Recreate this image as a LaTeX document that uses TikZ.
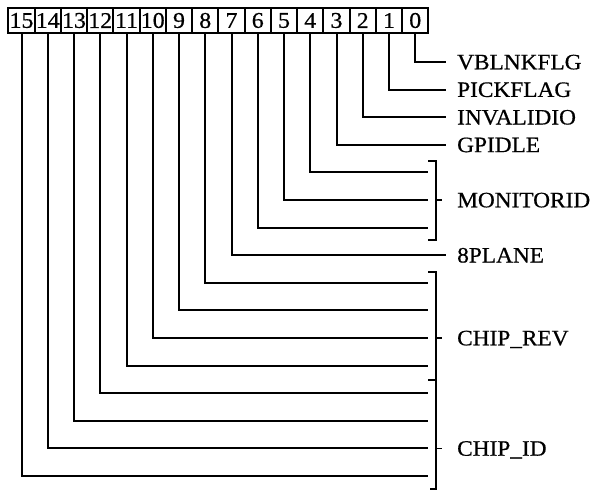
\documentclass[tikz,border=0pt]{standalone}
\usepackage{fontspec}
\setmainfont{Liberation Serif}[FakeStretch=1.06,FakeBold=0.6]
\begin{document}
\begin{tikzpicture}[x=1pt,y=-1pt,
  wire/.style={line width=2pt, line cap=rect},
  brk/.style={line width=2pt},
  tick/.style={line width=1.6pt},
  bitbox/.style={draw, line width=1.8pt, minimum width=26.25pt, minimum height=25pt, inner sep=0pt, font=\fontsize{22.5}{24}\selectfont},
  lbl/.style={anchor=base west, inner sep=0pt, font=\fontsize{22}{24}\selectfont}]
\useasboundingbox (0,0) rectangle (593,490);
% bit boxes
\foreach \k in {0,...,15} {
  \pgfmathsetmacro\bx{21.5+(15-\k)*26.25}
  \node[bitbox] (b\k) at (\bx,20.5) {\k};
}
% wires
\foreach \k/\ex in {0/445,1/445,2/445,3/445,4/427,5/427,6/427,7/445,8/427,9/427,10/427,11/427,12/427,13/427,14/427,15/427} {
  \pgfmathsetmacro\yy{62+27.6*\k}
  \coordinate (e\k) at (\ex,\yy);
  \draw[wire] (b\k.south) |- (e\k);
}
% single labels
\node[lbl] (l0) at (457,69.3) {VBLNKFLG};
\node[lbl] (l1) at (457,96.9) {PICKFLAG};
\node[lbl] (l2) at (457,124.5) {INVALIDIO};
\node[lbl] (l3) at (457,152.1) {GPIDLE};
\node[lbl] (l7) at (457,262.5) {8PLANE};
% grouped labels
\node[lbl] (lmon) at (457,207.3) {MONITORID};
\node[lbl] (lrev) at (457,345.3) {CHIP\_REV};
\node[lbl] (lid) at (457,455.7) {CHIP\_ID};
% brackets
\coordinate (m1) at (436,161); \coordinate (m2) at (436,240);
\draw[brk] (428,161) -- (m1) -- (m2) -- (428,240);
\coordinate (tm) at (436,200); \coordinate (tm2) at (442,200);
\draw[tick] (tm) -- (tm2);
\coordinate (r1) at (436,272); \coordinate (r2) at (436,380);
\draw[brk] (428,272) -- (r1) -- (r2) -- (428,380);
\coordinate (tr) at (436,338); \coordinate (tr2) at (442,338);
\draw[tick] (tr) -- (tr2);
\coordinate (i2) at (436,489);
\draw[brk] (r2) -- (i2) -- (430,489);
\coordinate (ti) at (436,448.4); \coordinate (ti2) at (442,448.4);
\draw[tick] (ti) -- (ti2);
\end{tikzpicture}
\end{document}
